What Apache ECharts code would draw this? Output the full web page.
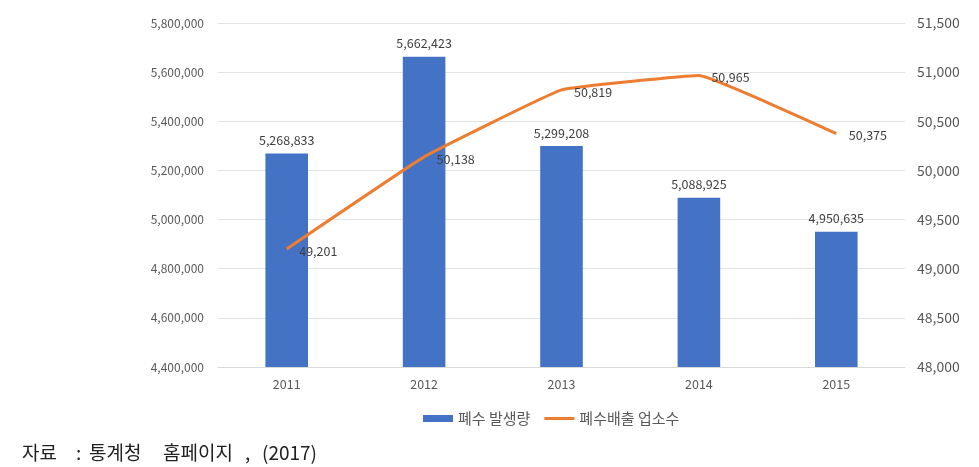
<!DOCTYPE html>
<html><head><meta charset="utf-8">
<script src="https://cdn.jsdelivr.net/npm/echarts@6/dist/echarts.min.js"></script>
<style>html,body{margin:0;padding:0;background:#fff}#c{width:979px;height:467px}</style>
</head><body><div id="c"></div>
<script>
var years = ['2011','2012','2013','2014','2015'];
var wastewater = [5268833, 5662423, 5299208, 5088925, 4950635];
var facilities = [49201, 50138, 50819, 50965, 50375];
var seriesNames = ['폐수 발생량', '폐수배출 업소수'];
var sourceParts = ['자료', ':', '통계청', '홈페이지', ',', '(2017)'];

var FONT = '"Noto Sans CJK KR", "Noto Sans", sans-serif';
var fmt = function(v){ return Number(v).toLocaleString('en-US'); };
var sourceX = [22, 76, 89, 163, 245, 262];
var chart = echarts.init(document.getElementById('c'));
chart.setOption({
  animation: false,
  textStyle: { fontFamily: FONT },
  graphic: sourceParts.map(function(t, i){
    return { type: 'text', left: sourceX[i], top: 443,
      style: { text: t, fontSize: 19, fill: '#222', fontFamily: FONT } };
  }),
  legend: { top: 406, left: 418, itemWidth: 30, itemHeight: 7, itemGap: 14,
    textStyle: { fontSize: 15, color: '#595959', fontFamily: FONT },
    data: [{ name: seriesNames[0], icon: 'rect' },
           { name: seriesNames[1], icon: 'path://M0,0h30v3h-30z' }] },
  grid: { left: 218, right: 74, top: 23, bottom: 100, containLabel: false },
  xAxis: { type: 'category', data: years,
    axisLine: { lineStyle: { color: '#d9d9d9' } }, axisTick: { show: false },
    axisLabel: { color: '#595959', fontSize: 12.5, margin: 11 } },
  yAxis: [
    { type: 'value', min: 4400000, max: 5800000, interval: 200000,
      axisLine: { show: false }, axisTick: { show: false },
      splitLine: { lineStyle: { color: '#e3e3e3' } },
      axisLabel: { color: '#595959', fontSize: 12, margin: 14, formatter: fmt } },
    { type: 'value', min: 48000, max: 51500, interval: 500,
      axisLine: { show: false }, axisTick: { show: false }, splitLine: { show: false },
      axisLabel: { color: '#595959', fontSize: 14, margin: 12, formatter: fmt } }
  ],
  series: [
    { name: seriesNames[0], type: 'bar', data: wastewater, barWidth: '31%',
      itemStyle: { color: '#4472C4' },
      label: { show: true, position: 'top', distance: 7, color: '#404040', fontSize: 12.5,
        formatter: function(p){ return fmt(p.value); } } },
    { name: seriesNames[1], type: 'line', yAxisIndex: 1, data: facilities,
      smooth: 0.08, symbol: 'none',
      lineStyle: { color: '#ED7D31', width: 3 }, itemStyle: { color: '#ED7D31' } },
    { name: 'lineLabels', type: 'scatter', yAxisIndex: 1, data: facilities,
      symbolSize: 1, itemStyle: { color: 'rgba(0,0,0,0)', opacity: 1 }, silent: true, z: 5,
      label: { show: true, position: 'right', distance: 12, offset: [0, 2], color: '#404040', fontSize: 12.5,
        formatter: function(p){ return fmt(p.value[1] !== undefined ? p.value[1] : p.value); } } }
  ]
});
</script></body></html>
